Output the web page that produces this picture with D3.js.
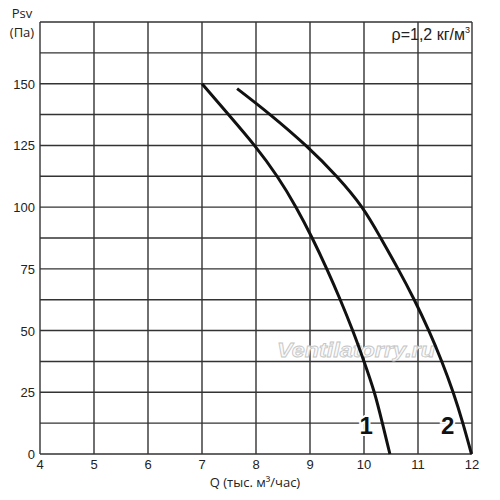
<!DOCTYPE html>
<html>
<head>
<meta charset="utf-8">
<script src="https://cdn.jsdelivr.net/npm/d3@7/dist/d3.min.js"></script>
<style>
  body { margin: 0; background: #fff; }
  #graph { width: 500px; height: 500px; }
</style>
</head>
<body>
<div id="graph"></div>
<script>
// curve 1 and curve 2: Q (thousand m3/h) vs Psv (Pa)
const curve1Q = [7.0, 7.49, 7.97, 8.39, 8.74, 9.04, 9.31, 9.56, 9.79, 10.0, 10.19, 10.34, 10.48];
const curve1P = [150, 137.5, 125, 112.5, 100, 87.5, 75, 62.5, 50, 37.5, 25, 12.5, 0];
const curve2Q = [7.65, 8.26, 8.92, 9.49, 9.96, 10.31, 10.63, 10.93, 11.20, 11.44, 11.65, 11.83, 11.99];
const curve2P = [148, 137.5, 125, 112.5, 100, 87.5, 75, 62.5, 50, 37.5, 25, 12.5, 0];
const curveNames = ["1", "2"];
const xTicks = [4, 5, 6, 7, 8, 9, 10, 11, 12];
const yTicks = [0, 25, 50, 75, 100, 125, 150];
const yGrid = [12.5, 25, 37.5, 50, 62.5, 75, 87.5, 100, 112.5, 125, 137.5, 150, 162.5];

function chart() {
  const layout = { top: 22, right: 28, bottom: 46, left: 40 };
  const width = 500, height = 500;
  const gridColor = "#333";
  const lineColor = "#111";
  const tickFont = "'Liberation Sans', Arial, sans-serif";
  const titleFont = "'Open Sans', 'Noto Sans', sans-serif";

  const svg = d3.select("#graph")
    .append("svg")
    .attr("width", width)
    .attr("height", height);

  const x = d3.scaleLinear().domain([4, 12]).range([layout.left, width - layout.right]);
  const y = d3.scaleLinear().domain([0, 175]).range([height - layout.bottom, layout.top]);

  // grid
  svg.append("g")
    .selectAll("line")
    .data(xTicks)
    .enter()
    .append("line")
    .attr("x1", d => x(d)).attr("x2", d => x(d))
    .attr("y1", y(0)).attr("y2", y(175))
    .attr("stroke", gridColor)
    .attr("stroke-width", 1.4);

  svg.append("g")
    .selectAll("line")
    .data([0].concat(yGrid, [175]))
    .enter()
    .append("line")
    .attr("x1", x(4)).attr("x2", x(12))
    .attr("y1", d => y(d)).attr("y2", d => y(d))
    .attr("stroke", gridColor)
    .attr("stroke-width", 1.4);

  // tick labels
  svg.append("g")
    .selectAll("text")
    .data(yTicks)
    .enter()
    .append("text")
    .attr("x", layout.left - 5)
    .attr("y", d => y(d) + 5)
    .attr("text-anchor", "end")
    .style("font-family", tickFont)
    .style("font-size", "13px")
    .attr("fill", "#222")
    .text(d => d);

  svg.append("g")
    .selectAll("text")
    .data(xTicks)
    .enter()
    .append("text")
    .attr("x", d => x(d))
    .attr("y", y(0) + 15)
    .attr("text-anchor", "middle")
    .style("font-family", tickFont)
    .style("font-size", "13px")
    .attr("fill", "#222")
    .text(d => d);

  // axis titles
  svg.append("text")
    .attr("x", 22).attr("y", 18)
    .attr("text-anchor", "middle")
    .style("font-family", titleFont)
    .style("font-size", "13px")
    .attr("fill", "#222")
    .text("Psv");
  svg.append("text")
    .attr("x", 22).attr("y", 37)
    .attr("text-anchor", "middle")
    .style("font-family", titleFont)
    .style("font-size", "13px")
    .attr("fill", "#222")
    .text("(Па)");
  svg.append("text")
    .attr("x", 255).attr("y", 487)
    .attr("text-anchor", "middle")
    .style("font-family", titleFont)
    .style("font-size", "13px")
    .attr("fill", "#222")
    .text("Q (тыс. м³/час)");

  // density note
  const rho = svg.append("text")
    .attr("x", x(12) - 2).attr("y", 40)
    .attr("text-anchor", "end")
    .style("font-family", tickFont)
    .style("font-size", "16px")
    .attr("fill", "#222");
  rho.append("tspan").text("ρ=1,2 кг/м");
  rho.append("tspan").attr("dy", -7).style("font-size", "9px").text("3");

  // watermark
  svg.append("text")
    .attr("x", 277).attr("y", 357)
    .attr("textLength", 158)
    .attr("lengthAdjust", "spacingAndGlyphs")
    .style("font-family", tickFont)
    .style("font-size", "21px")
    .style("font-style", "italic")
    .style("font-weight", "bold")
    .attr("fill", "#fafafa")
    .attr("stroke", "#c4c4c4")
    .attr("stroke-width", 0.8)
    .text("Ventilatorry.ru");

  // curves
  const line = d3.line()
    .x(d => x(d[0]))
    .y(d => y(d[1]))
    .curve(d3.curveNatural);

  const curves = [d3.zip(curve1Q, curve1P), d3.zip(curve2Q, curve2P)];

  svg.append("g")
    .selectAll("path")
    .data(curves)
    .enter()
    .append("path")
    .attr("d", line)
    .attr("fill", "none")
    .attr("stroke", lineColor)
    .attr("stroke-width", 3);

  // curve numbers
  const labelPos = [[10.04, 8], [11.55, 8]];
  svg.append("g")
    .selectAll("text")
    .data(curveNames)
    .enter()
    .append("text")
    .attr("x", (d, i) => x(labelPos[i][0]))
    .attr("y", (d, i) => y(labelPos[i][1]))
    .attr("text-anchor", "middle")
    .style("font-family", tickFont)
    .style("font-size", "24px")
    .style("font-weight", "bold")
    .attr("fill", "#111")
    .attr("stroke", "#fff")
    .attr("stroke-width", 4)
    .style("paint-order", "stroke")
    .text(d => d);
}

chart();
</script>
</body>
</html>
